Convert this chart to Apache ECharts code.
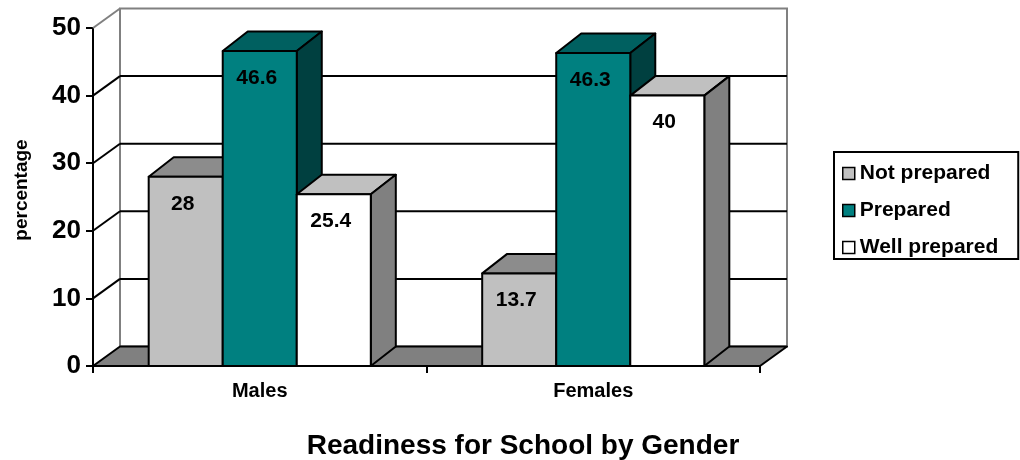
<!DOCTYPE html>
<html>
<head>
<meta charset="utf-8">
<script src="https://cdn.jsdelivr.net/npm/echarts@6/dist/echarts.min.js"></script>
<style>
  html, body { margin: 0; padding: 0; background: #fff; }
  #chart { width: 1020px; height: 460px; }
</style>
</head>
<body>
<div id="chart"></div>
<script>
// Readiness for School by Gender (percent)
const categories = ['Males', 'Females'];
const notPrepared = [28, 13.7];
const prepared = [46.6, 46.3];
const wellPrepared = [25.4, 40];
const tickValues = [0, 10, 20, 30, 40, 50];

const FONT = "'Liberation Sans', Arial, sans-serif";

// depth offsets for the pseudo-3D look
const WALL_DX = 27, WALL_DY = -19.5;
const BAR_DX = 25, BAR_DY = -19.5;
const BAR_RATIO = 0.222; // width of one bar as a share of the category band

const seriesDefs = [
  { name: 'Not prepared', values: notPrepared, front: '#c0c0c0', top: '#8c8c8c', side: '#606060' },
  { name: 'Prepared', values: prepared, front: '#008080', top: '#006060', side: '#004040' },
  { name: 'Well prepared', values: wellPrepared, front: '#ffffff', top: '#c0c0c0', side: '#808080' }
];

// back wall, floor and gridlines (one item per tick value)
function wallRender(params, api) {
  const cs = params.coordSys;
  const left = cs.x, right = cs.x + cs.width;
  const v = api.value(0);
  const y = api.coord([0, v])[1];
  const maxV = tickValues[tickValues.length - 1];
  const children = [];
  if (v === 0) {
    const yTop = api.coord([0, maxV])[1];
    children.push({
      type: 'rect',
      shape: { x: left + WALL_DX, y: yTop + WALL_DY, width: right - left, height: y - yTop },
      style: { fill: '#ffffff', stroke: '#808080', lineWidth: 2 }
    });
    children.push({
      type: 'polygon',
      shape: { points: [[left, y], [right, y], [right + WALL_DX, y + WALL_DY], [left + WALL_DX, y + WALL_DY]] },
      style: { fill: '#808080', stroke: '#000', lineWidth: 2, lineJoin: 'round' }
    });
  } else {
    const col = v === maxV ? '#808080' : '#000';
    children.push({
      type: 'line',
      shape: { x1: left, y1: y, x2: left + WALL_DX, y2: y + WALL_DY },
      style: { stroke: col, lineWidth: 2 }
    });
    if (v !== maxV) {
      children.push({
        type: 'line',
        shape: { x1: left + WALL_DX, y1: y + WALL_DY, x2: right + WALL_DX, y2: y + WALL_DY },
        style: { stroke: '#000', lineWidth: 2 }
      });
    }
  }
  return { type: 'group', children: children };
}

// a shaded box per bar: top face, side face, front face and value label
function barRender(sIdx, def) {
  return function (params, api) {
    const cat = api.value(0), v = api.value(1);
    const base = api.coord([cat, 0]);
    const top = api.coord([cat, v]);
    const band = api.size([1, 0])[0];
    const bw = band * BAR_RATIO;
    const x0 = base[0] - 1.5 * bw + sIdx * bw, x1 = x0 + bw;
    const y0 = base[1], y1 = top[1];
    const st = { stroke: '#000', lineWidth: 2, lineJoin: 'round' };
    return {
      type: 'group',
      children: [
        { type: 'polygon', shape: { points: [[x0, y1], [x1, y1], [x1 + BAR_DX, y1 + BAR_DY], [x0 + BAR_DX, y1 + BAR_DY]] },
          style: Object.assign({ fill: def.top }, st) },
        { type: 'polygon', shape: { points: [[x1, y1], [x1, y0], [x1 + BAR_DX, y0 + BAR_DY], [x1 + BAR_DX, y1 + BAR_DY]] },
          style: Object.assign({ fill: def.side }, st) },
        { type: 'rect', shape: { x: x0, y: y1, width: bw, height: y0 - y1 },
          style: Object.assign({ fill: def.front }, st) },
        { type: 'text', x: (x0 + x1) / 2 - 3, y: y1 + 27,
          style: { text: String(v), fill: '#000', font: 'bold 21px ' + FONT, align: 'center', verticalAlign: 'middle' } }
      ]
    };
  };
}

const series = [{
  type: 'custom',
  name: '_walls',
  z: 1,
  silent: true,
  renderItem: wallRender,
  encode: { y: 0 },
  data: tickValues.map(v => [v])
}];

seriesDefs.forEach((def, i) => {
  series.push({
    type: 'custom',
    name: def.name,
    z: 3,
    renderItem: barRender(i, def),
    itemStyle: { color: def.front, borderColor: '#000', borderWidth: 1.5 },
    encode: { x: 0, y: 1 },
    data: categories.map((c, k) => [k, def.values[k]])
  });
});

const chart = echarts.init(document.getElementById('chart'), null, { renderer: 'canvas' });
chart.setOption({
  animation: false,
  backgroundColor: '#fff',
  title: {
    text: 'Readiness for School by Gender',
    left: 518,
    textAlign: 'center',
    top: 427,
    textStyle: { fontFamily: FONT, fontWeight: 'bold', fontSize: 28, color: '#000' }
  },
  graphic: [{
    type: 'text',
    x: 22,
    y: 190,
    rotation: Math.PI / 2,
    style: { text: 'percentage', fill: '#000', font: 'bold 19px ' + FONT, align: 'center', verticalAlign: 'middle' }
  }],
  legend: {
    orient: 'vertical',
    left: 834,
    top: 152,
    padding: [11, 20, 1, 8],
    itemGap: 16,
    itemWidth: 12,
    itemHeight: 12,
    borderColor: '#000',
    borderWidth: 2,
    textStyle: { fontFamily: FONT, fontWeight: 'bold', fontSize: 21, color: '#000', lineHeight: 20 },
    data: seriesDefs.map(d => ({
      name: d.name,
      icon: 'rect',
      itemStyle: { color: d.front, borderColor: '#000', borderWidth: 1.5 }
    }))
  },
  grid: { left: 93, right: 260, top: 28, bottom: 94, containLabel: false },
  xAxis: {
    type: 'category',
    data: categories,
    boundaryGap: true,
    axisLine: { lineStyle: { color: '#000', width: 2 } },
    axisTick: { show: true, length: 7, lineStyle: { color: '#000', width: 2 } },
    axisLabel: { margin: 15, fontFamily: FONT, fontWeight: 'bold', fontSize: 20, color: '#000' },
    splitLine: { show: false }
  },
  yAxis: {
    type: 'value',
    min: 0,
    max: 50,
    interval: 10,
    axisLine: { show: true, lineStyle: { color: '#000', width: 2 } },
    axisTick: { show: true, length: 7, lineStyle: { color: '#000', width: 2 } },
    axisLabel: { margin: 12, fontFamily: FONT, fontWeight: 'bold', fontSize: 26, color: '#000' },
    splitLine: { show: false }
  },
  series: series
});
</script>
</body>
</html>
